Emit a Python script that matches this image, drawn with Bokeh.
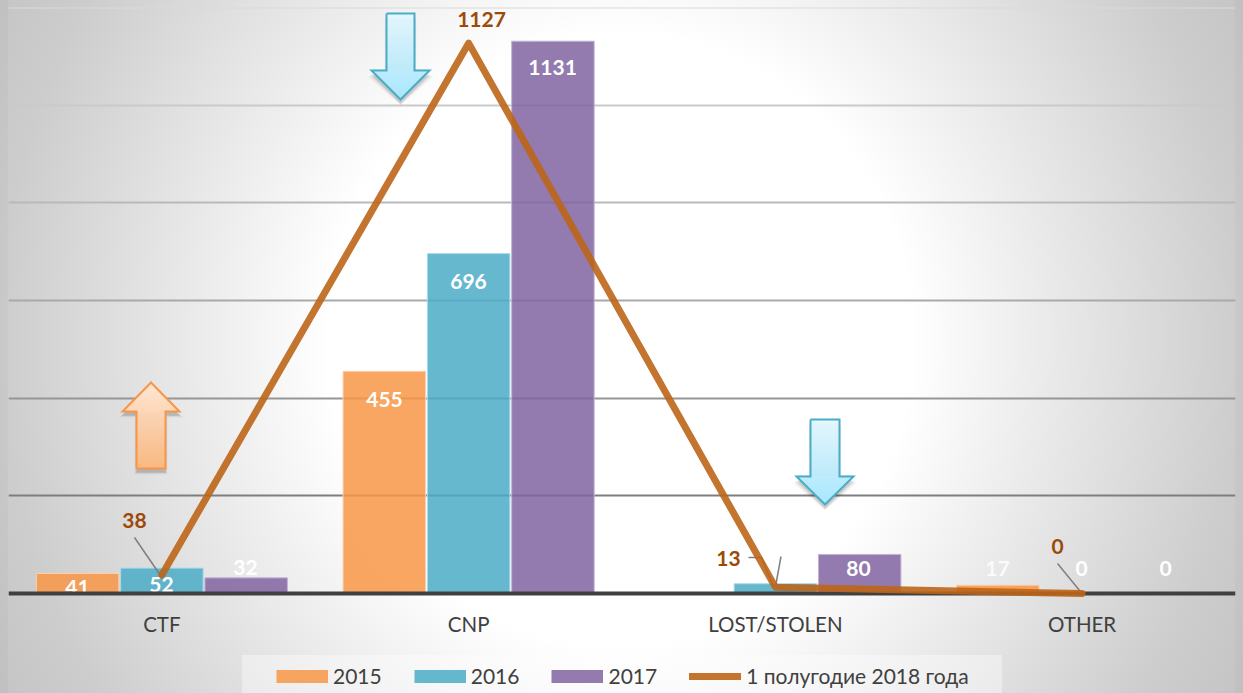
from bokeh.plotting import figure
from bokeh.embed import file_html
from bokeh.resources import INLINE
from bokeh.core.properties import value
from bokeh.models import ColumnDataSource, Legend, LegendItem
from bokeh.transform import dodge

categories = ["CTF", "CNP", "LOST/STOLEN", "OTHER"]
s2015 = [41, 455, 0, 17]
s2016 = [52, 696, 20, 0]
s2017 = [32, 1131, 80, 0]
s2018 = [38, 1127, 13, 0]
labels_2015 = [41, 455, None, 17]
labels_2016 = [52, 696, None, 0]
labels_2017 = [32, 1131, 80, 0]
grid_values = [200, 400, 600, 800, 1000, 1200]
grid_colors = ["#7e7e7e", "#969696", "#a9a9a9", "#b9b9b9", "#cacaca", "#d9d9d9"]

W, H = 1243, 693
LEFT, RIGHT, TOP, BASE = 8, 1235, 7, 593
YMAX = 1200
YMIN = -(H - BASE) * YMAX / (BASE - TOP)
FONT = "Lato"

def yd(py):
    return (BASE - py) * YMAX / (BASE - TOP)

def xd(px):
    return (px - LEFT) * 4 / (RIGHT - LEFT)

p = figure(width=W, height=H, x_range=categories, y_range=(YMIN, YMAX),
           output_backend="svg", toolbar_location=None,
           min_border_left=LEFT, min_border_right=W - RIGHT,
           min_border_top=TOP, min_border_bottom=0,
           margin=0, outline_line_color=None)
p.x_range.range_padding = 0
p.background_fill_alpha = 0
p.border_fill_alpha = 0
p.styles = {"background":
            "linear-gradient(rgba(255,255,255,.38),rgba(255,255,255,.38)) 242px 655px / 760px 38px no-repeat, "
            "linear-gradient(rgba(0,0,0,.025),rgba(0,0,0,.025)) 0 0 / 8px 100% no-repeat, "
            "linear-gradient(rgba(0,0,0,.025),rgba(0,0,0,.025)) 1235px 0 / 8px 100% no-repeat, "
            "radial-gradient(ellipse 620px 650px at 620px 340px, #ffffff 47%, #cdcdcd 100%, #c4c4c4 115%)"}

p.xgrid.visible = False
p.ygrid.visible = False
p.yaxis.visible = False
ax = p.xaxis[0]
ax.fixed_location = 0
ax.axis_line_color = "#404040"
ax.axis_line_width = 4
ax.major_tick_line_color = None
ax.minor_tick_line_color = None
ax.major_label_text_font = FONT
ax.major_label_text_font_size = "20.5px"
ax.major_label_text_color = "#404040"
ax.major_label_standoff = 12

p.hspan(y=grid_values, line_color=grid_colors, line_width=1.8)

src = ColumnDataSource(dict(cat=categories, a=s2015, b=s2016, c=s2017))
OFF = 84.3 / 306.75
BW = 82.5 / 306.75
p.vbar(x=dodge("cat", -OFF, range=p.x_range), top="a", width=BW, source=src,
       fill_color="#f79646", fill_alpha=0.85, line_color="#fbd0ac", line_width=1)
p.vbar(x=dodge("cat", 0, range=p.x_range), top="b", width=BW, source=src,
       fill_color="#4bacc6", fill_alpha=0.85, line_color="#a9dcea", line_width=1)
p.vbar(x=dodge("cat", OFF, range=p.x_range), top="c", width=BW, source=src,
       fill_color="#8064a2", fill_alpha=0.85, line_color="#c3b4d4", line_width=1)

# legend swatches
nan = float("nan")
key_a = p.line([0.5, 0.5], [nan, nan], line_color="#f79646", line_alpha=0.85, line_width=13)
key_b = p.line([0.5, 0.5], [nan, nan], line_color="#4bacc6", line_alpha=0.85, line_width=13)
key_c = p.line([0.5, 0.5], [nan, nan], line_color="#8064a2", line_alpha=0.85, line_width=13)

# leader lines
lead_x = [[134, 160], [748, 761, 773], [780.5, 775], [1057, 1081.5]]
lead_y = [[537, 575], [557, 557, 586], [556, 586], [563, 593]]
p.multi_line([[xd(v) for v in xs] for xs in lead_x], [[yd(v) for v in ys] for ys in lead_y],
             line_color="#7f7f7f", line_width=1.5, level="overlay")

line = p.line(categories, s2018, line_color="#bd6518", line_alpha=0.9, line_width=7,
              line_join="round", line_cap="round", level="overlay")

def labels(xs, ys, vals, color, size, alpha=1.0):
    out = [(x, y, str(v)) for x, y, v in zip(xs, ys, vals) if v is not None]
    p.text([xd(o[0]) for o in out], [yd(o[1]) for o in out], text=[o[2] for o in out],
           text_color=color, text_alpha=alpha, text_font=value(FONT), text_font_style="bold",
           text_font_size=size, text_align="center", text_baseline="middle")

labels([77, 384], [587, 399], labels_2015[:2], "#ffffff", "21px")
labels([997], [568], labels_2015[3:], "#ffffff", "21px", 0.85)
labels([161, 468, 1081], [584, 281, 568], [labels_2016[0], labels_2016[1], labels_2016[3]], "#ffffff", "21px")
labels([245, 552, 858, 1165], [567, 67, 568, 568], labels_2017, "#ffffff", "21px")
labels([134, 481, 728, 1057], [520, 19, 558, 546], s2018, "#9c4a09", "21px")

def mix(c1, c2, t):
    a = [int(c1[i:i + 2], 16) for i in (1, 3, 5)]
    b = [int(c2[i:i + 2], 16) for i in (1, 3, 5)]
    return "#%02x%02x%02x" % tuple(round(u + (v - u) * t) for u, v in zip(a, b))

def arrow(cx, body_w, head_w, y_start, y_head, y_tip, c1, c2, edge):
    hb, hh = body_w / 2, head_w / 2
    outline = [(cx - hb, y_start), (cx + hb, y_start), (cx + hb, y_head), (cx + hh, y_head),
               (cx, y_tip), (cx - hh, y_head), (cx - hb, y_head)]
    for grow, a in ((4, 0.035), (2.5, 0.05), (1, 0.06), (0, 0.07)):
        sh = [(cx + (q[0] - cx) * (1 + grow / hh), q[1] + 4 + grow * 0.5) for q in outline]
        p.patch([xd(q[0]) for q in sh], [yd(q[1]) for q in sh], fill_color="#000000",
                fill_alpha=a, line_color=None, level="overlay")
    top, bot = min(y_start, y_tip), max(y_start, y_tip)
    def half(y):
        if (y - y_head) * (y_tip - y_head) > 0:
            return hh * (y_tip - y) / (y_tip - y_head)
        return hb
    n = int(bot - top)
    xs, ys, cols = [], [], []
    for i in range(n):
        y0, y1 = top + i, min(top + i + 1.4, bot)
        h0, h1 = half(y0), half(y1)
        if y0 < y_head < y1:
            h0 = h1 = max(h0, h1)
        xs.append([xd(cx - h0), xd(cx + h0), xd(cx + h1), xd(cx - h1)])
        ys.append([yd(y0), yd(y0), yd(y1), yd(y1)])
        cols.append(mix(c1, c2, i / n))
    p.patches(xs, ys, fill_color=cols, line_color=None, level="overlay")
    closed = outline + [outline[0]]
    p.line([xd(q[0]) for q in closed], [yd(q[1]) for q in closed], line_color=edge,
           line_width=2, line_join="miter", level="overlay")

arrow(150.5, 29, 57, 468, 411, 382, "#fee6d3", "#fdb97e", "#f79646")
arrow(400, 28, 58, 13, 70, 99, "#e4f8ff", "#a8e6fc", "#4bacc6")
arrow(824.5, 29, 57, 419, 476, 504, "#e4f8ff", "#a8e6fc", "#4bacc6")

legend = Legend(items=[LegendItem(label="2015", renderers=[key_a]),
                       LegendItem(label="2016", renderers=[key_b]),
                       LegendItem(label="2017", renderers=[key_c]),
                       LegendItem(label="1 полугодие 2018 года", renderers=[line])],
                orientation="horizontal", location=(268, 5),
                glyph_width=52, glyph_height=20, label_standoff=5, spacing=32, padding=0, margin=0,
                label_text_font=FONT, label_text_font_size="21px", label_text_color="#404040",
                background_fill_alpha=0, border_line_color=None, label_height=20)
p.add_layout(legend, "center")

open("out.html", "w").write(file_html(p, INLINE))
